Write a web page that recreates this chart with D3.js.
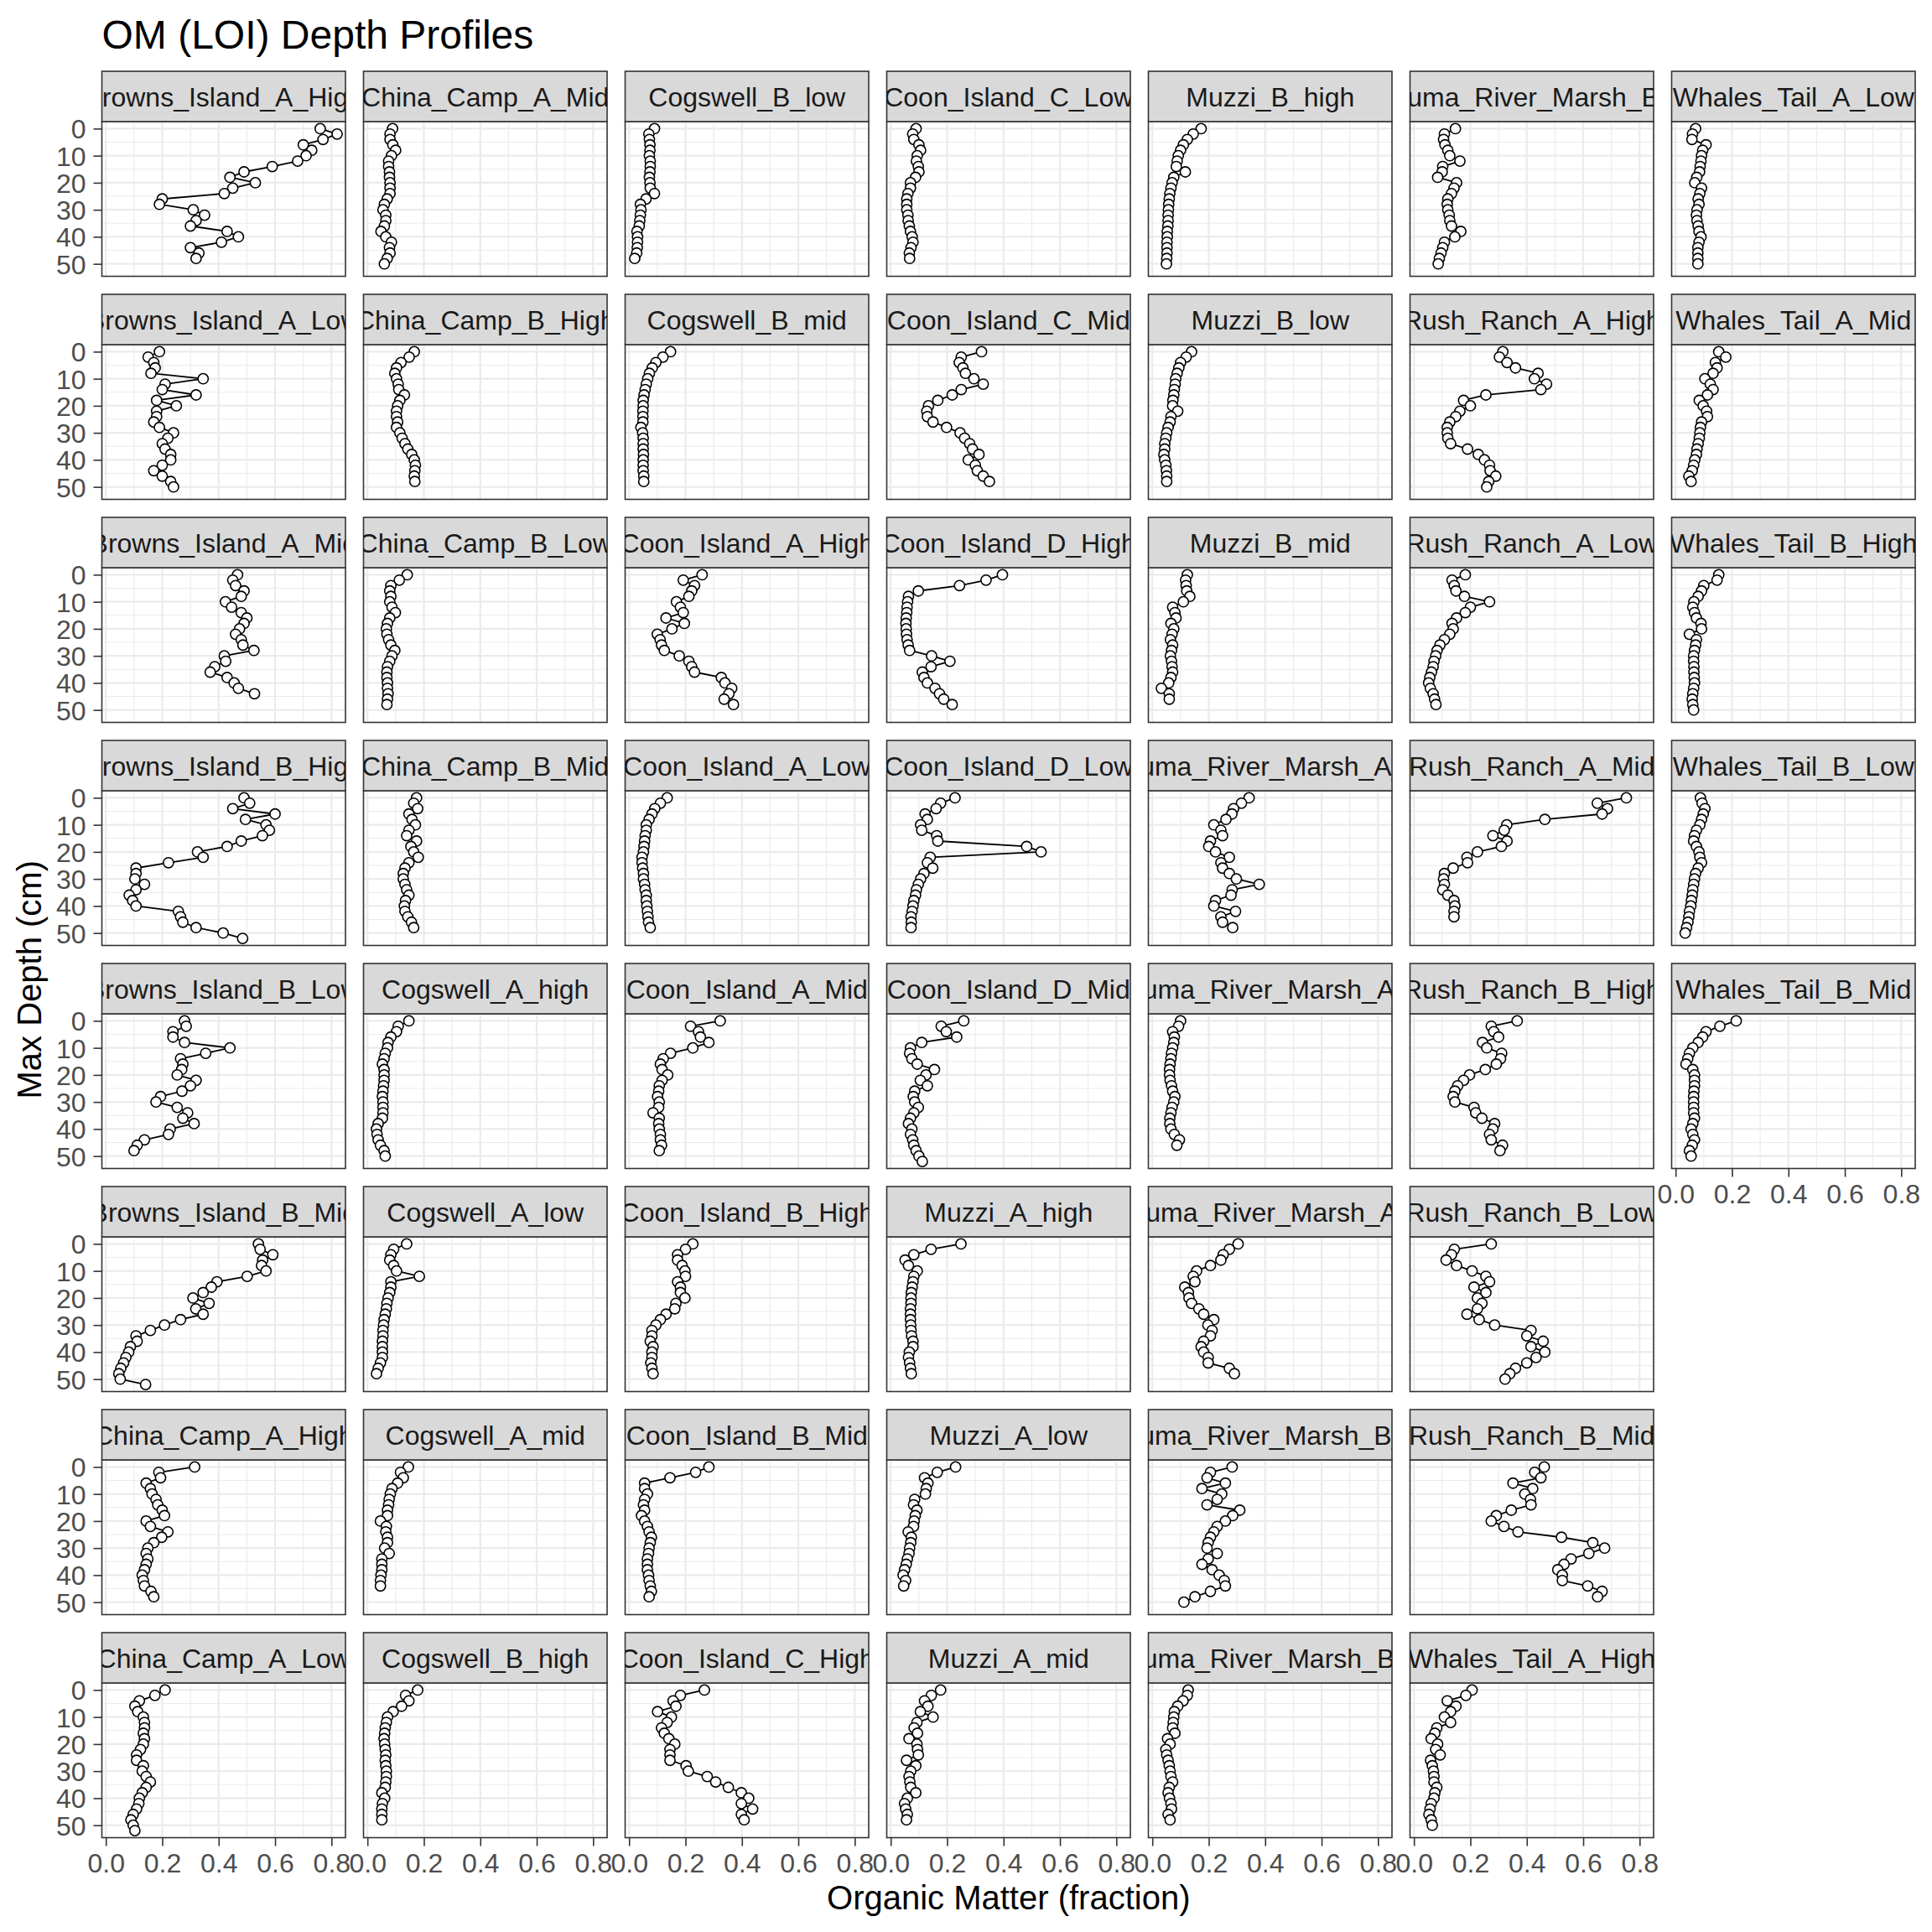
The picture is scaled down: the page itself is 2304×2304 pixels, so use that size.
<!DOCTYPE html>
<html><head><meta charset="utf-8">
<script src="https://cdn.jsdelivr.net/npm/d3@7"></script>
<style>
body{margin:0;background:#fff}
text{font-family:"Liberation Sans",Arial,Helvetica,sans-serif}
</style>
</head><body>
<svg id="chart" width="2304" height="2304"></svg>
<script>
// ---------- data ----------
const depths = [0,2,4,6,8,10,12,14,16,18,20,22,24,26,28,30,32,34,36,38,40,42,44,46,48,50,52];
const xTicks = [0,0.2,0.4,0.6,0.8];
const xMinor = [0.1,0.3,0.5,0.7];
const yTicks = [0,10,20,30,40,50];
const yMinor = [5,15,25,35,45];

const BI_A_High = [0.76,0.82,0.77,0.70,0.73,0.71,0.68,0.59,0.49,0.44,0.53,0.45,0.42,0.20,0.19,0.31,0.35,0.32,0.30,0.43,0.47,0.41,0.30,0.33,0.32];
const BI_A_Low = [0.19,0.15,0.17,0.175,0.16,0.345,0.21,0.2,0.32,0.18,0.25,0.18,0.18,0.17,0.19,0.24,0.22,0.2,0.21,0.23,0.23,0.2,0.17,0.2,0.23,0.24];
const BI_A_Mid = [0.467,0.45,0.46,0.49,0.48,0.424,0.446,0.48,0.5,0.49,0.474,0.46,0.48,0.486,0.525,0.42,0.425,0.386,0.37,0.43,0.455,0.47,0.527];
const BI_B_High = [0.49,0.51,0.45,0.6,0.495,0.568,0.58,0.555,0.48,0.43,0.325,0.345,0.222,0.107,0.107,0.103,0.137,0.107,0.083,0.095,0.107,0.257,0.265,0.273,0.32,0.416,0.485];
const BI_B_Low = [0.279,0.285,0.238,0.238,0.279,0.44,0.354,0.265,0.273,0.269,0.253,0.32,0.3,0.27,0.194,0.178,0.253,0.29,0.273,0.313,0.228,0.222,0.137,0.111,0.1];
const BI_B_Mid = [0.541,0.547,0.592,0.556,0.552,0.568,0.501,0.394,0.374,0.345,0.309,0.366,0.319,0.345,0.265,0.208,0.158,0.107,0.111,0.087,0.081,0.071,0.063,0.053,0.046,0.051,0.141];
const CC_A_High = [0.315,0.188,0.194,0.143,0.158,0.164,0.178,0.184,0.2,0.208,0.143,0.158,0.22,0.198,0.17,0.149,0.143,0.149,0.143,0.137,0.129,0.133,0.137,0.16,0.17];
const CC_A_Low = [0.21,0.174,0.119,0.103,0.113,0.133,0.137,0.137,0.133,0.137,0.133,0.123,0.109,0.109,0.133,0.129,0.143,0.158,0.143,0.129,0.119,0.117,0.109,0.097,0.089,0.097,0.103];
const CC_A_Mid = [0.089,0.08,0.08,0.09,0.10,0.085,0.075,0.075,0.078,0.078,0.08,0.08,0.08,0.07,0.06,0.055,0.065,0.065,0.06,0.048,0.065,0.085,0.078,0.08,0.07,0.06];
const CC_B_High = [0.166,0.148,0.119,0.103,0.097,0.103,0.109,0.111,0.131,0.115,0.107,0.103,0.103,0.107,0.103,0.115,0.123,0.133,0.143,0.157,0.166,0.17,0.168,0.166,0.168];
const CC_B_Low = [0.141,0.113,0.083,0.079,0.083,0.079,0.087,0.099,0.079,0.071,0.067,0.069,0.075,0.083,0.097,0.087,0.079,0.071,0.069,0.069,0.071,0.071,0.073,0.071,0.069];
const CC_B_Mid = [0.174,0.164,0.178,0.147,0.158,0.17,0.147,0.139,0.174,0.154,0.164,0.18,0.147,0.133,0.127,0.127,0.133,0.139,0.147,0.135,0.131,0.133,0.143,0.156,0.164];
const Cog_A_high = [0.147,0.109,0.103,0.083,0.073,0.071,0.063,0.059,0.053,0.059,0.059,0.059,0.057,0.055,0.053,0.055,0.055,0.055,0.053,0.038,0.032,0.034,0.038,0.046,0.059,0.063];
const Cog_A_low = [0.139,0.093,0.083,0.079,0.093,0.103,0.184,0.083,0.083,0.079,0.073,0.069,0.067,0.063,0.059,0.057,0.055,0.055,0.053,0.053,0.053,0.053,0.046,0.038,0.032];
const Cog_A_mid = [0.145,0.117,0.127,0.107,0.087,0.081,0.077,0.075,0.071,0.071,0.046,0.067,0.065,0.071,0.071,0.061,0.077,0.051,0.051,0.051,0.048,0.046,0.046];
const Cog_B_high = [0.178,0.135,0.147,0.121,0.091,0.071,0.067,0.063,0.061,0.059,0.061,0.063,0.065,0.063,0.065,0.067,0.067,0.065,0.063,0.051,0.061,0.053,0.051,0.051,0.051];
const Cog_B_low = [0.09,0.07,0.072,0.074,0.074,0.072,0.075,0.075,0.074,0.072,0.074,0.075,0.09,0.06,0.04,0.042,0.04,0.038,0.036,0.028,0.03,0.03,0.029,0.027,0.02];
const Cog_B_mid = [0.147,0.12,0.095,0.082,0.072,0.066,0.061,0.057,0.053,0.05,0.05,0.049,0.049,0.049,0.042,0.048,0.05,0.05,0.05,0.051,0.05,0.05,0.05,0.052,0.052];
const CI_A_High = [0.259,0.192,0.232,0.222,0.212,0.168,0.182,0.192,0.131,0.196,0.152,0.1,0.11,0.115,0.125,0.178,0.212,0.222,0.232,0.327,0.34,0.364,0.354,0.337,0.37];
const CI_A_Low = [0.135,0.111,0.091,0.081,0.071,0.061,0.061,0.057,0.055,0.053,0.051,0.046,0.046,0.048,0.051,0.051,0.055,0.057,0.061,0.061,0.063,0.065,0.067,0.069,0.075];
const CI_A_Mid = [0.323,0.218,0.246,0.253,0.283,0.226,0.147,0.121,0.111,0.117,0.137,0.117,0.107,0.105,0.101,0.107,0.105,0.085,0.107,0.105,0.107,0.111,0.111,0.115,0.107];
const CI_B_High = [0.226,0.2,0.172,0.172,0.188,0.198,0.2,0.172,0.182,0.182,0.198,0.166,0.162,0.131,0.111,0.095,0.081,0.081,0.075,0.085,0.081,0.081,0.077,0.081,0.085];
const CI_B_Mid = [0.283,0.236,0.145,0.055,0.055,0.065,0.055,0.051,0.055,0.044,0.055,0.065,0.071,0.079,0.075,0.071,0.069,0.065,0.065,0.065,0.069,0.071,0.075,0.079,0.071];
const CI_C_High = [0.267,0.182,0.156,0.166,0.101,0.15,0.135,0.115,0.125,0.141,0.162,0.145,0.145,0.145,0.202,0.21,0.277,0.307,0.352,0.398,0.424,0.398,0.438,0.398,0.408];
const CI_C_Low = [0.09,0.078,0.082,0.1,0.106,0.094,0.091,0.098,0.1,0.088,0.07,0.07,0.061,0.057,0.057,0.057,0.061,0.062,0.066,0.07,0.076,0.079,0.072,0.066,0.067];
const CI_C_Mid = [0.322,0.25,0.243,0.256,0.265,0.295,0.328,0.25,0.218,0.167,0.134,0.128,0.13,0.15,0.198,0.246,0.262,0.28,0.29,0.313,0.275,0.30,0.307,0.328,0.35];
const CI_D_High = [0.396,0.338,0.244,0.098,0.063,0.06,0.058,0.057,0.055,0.054,0.055,0.056,0.058,0.062,0.067,0.145,0.21,0.143,0.112,0.118,0.13,0.157,0.173,0.188,0.218];
const CI_D_Low = [0.228,0.177,0.161,0.122,0.13,0.106,0.11,0.163,0.167,0.482,0.533,0.14,0.13,0.149,0.118,0.106,0.098,0.091,0.088,0.082,0.079,0.076,0.072,0.073,0.072];
const CI_D_Mid = [0.259,0.179,0.197,0.234,0.11,0.07,0.067,0.075,0.094,0.155,0.125,0.105,0.13,0.085,0.08,0.085,0.098,0.082,0.07,0.063,0.075,0.07,0.078,0.082,0.09,0.1,0.112];
const Muz_A_high = [0.249,0.143,0.082,0.051,0.063,0.094,0.082,0.079,0.076,0.073,0.072,0.072,0.07,0.07,0.07,0.071,0.072,0.074,0.079,0.079,0.066,0.063,0.067,0.07,0.073];
const Muz_A_low = [0.23,0.165,0.12,0.132,0.126,0.123,0.085,0.081,0.093,0.087,0.083,0.081,0.062,0.073,0.071,0.067,0.065,0.059,0.055,0.049,0.044,0.053,0.046];
const Muz_A_mid = [0.177,0.144,0.12,0.132,0.105,0.15,0.093,0.083,0.095,0.065,0.093,0.095,0.098,0.056,0.089,0.071,0.065,0.068,0.071,0.089,0.059,0.049,0.053,0.059,0.056];
const Muz_B_high = [0.173,0.145,0.124,0.11,0.10,0.092,0.088,0.085,0.117,0.076,0.07,0.066,0.062,0.06,0.058,0.057,0.056,0.056,0.055,0.053,0.053,0.052,0.052,0.052,0.051,0.05];
const Muz_B_low = [0.139,0.12,0.10,0.094,0.088,0.083,0.081,0.078,0.076,0.073,0.072,0.09,0.066,0.063,0.056,0.051,0.048,0.044,0.044,0.041,0.044,0.048,0.05,0.051,0.051];
const Muz_B_mid = [0.124,0.118,0.12,0.122,0.133,0.11,0.072,0.08,0.084,0.066,0.076,0.07,0.064,0.072,0.068,0.064,0.068,0.07,0.072,0.066,0.058,0.032,0.06,0.06];
const PRM_A_High = [0.343,0.316,0.288,0.282,0.261,0.218,0.243,0.249,0.206,0.2,0.224,0.273,0.243,0.249,0.273,0.298,0.379,0.283,0.279,0.224,0.218,0.295,0.243,0.249,0.285];
const PRM_A_Low = [0.1,0.093,0.072,0.078,0.076,0.072,0.068,0.066,0.063,0.061,0.061,0.063,0.068,0.072,0.08,0.076,0.07,0.066,0.062,0.062,0.066,0.078,0.096,0.087];
const PRM_A_Mid = [0.304,0.273,0.251,0.243,0.206,0.157,0.145,0.151,0.115,0.128,0.13,0.139,0.165,0.182,0.218,0.197,0.212,0.206,0.182,0.173,0.182,0.198,0.198,0.273,0.291];
const PRM_B_High = [0.283,0.206,0.194,0.259,0.176,0.246,0.23,0.194,0.31,0.285,0.259,0.23,0.218,0.206,0.198,0.194,0.23,0.198,0.176,0.212,0.237,0.255,0.259,0.206,0.151,0.112];
const PRM_B_Low = [0.127,0.124,0.109,0.09,0.078,0.076,0.074,0.072,0.08,0.054,0.063,0.048,0.051,0.056,0.06,0.063,0.066,0.072,0.06,0.056,0.061,0.066,0.068,0.056,0.063];
const PRM_B_Mid = [0.147,0.108,0.105,0.11,0.12,0.127,0.163,0.102,0.1,0.084,0.151,0.142,0.133,0.12,0.118,0.12,0.125,0.127,0.133,0.166,0.145,0.108,0.102,0.096,0.09,0.086];
const RR_A_High = [0.315,0.303,0.33,0.36,0.44,0.427,0.47,0.45,0.255,0.176,0.2,0.163,0.148,0.127,0.118,0.118,0.12,0.13,0.19,0.228,0.25,0.268,0.27,0.29,0.265,0.258];
const RR_A_Low = [0.182,0.135,0.143,0.149,0.179,0.268,0.2,0.182,0.151,0.135,0.139,0.127,0.108,0.092,0.082,0.077,0.071,0.068,0.062,0.056,0.052,0.058,0.068,0.073,0.078];
const RR_A_Mid = [0.753,0.65,0.686,0.667,0.464,0.329,0.32,0.28,0.33,0.31,0.225,0.188,0.19,0.139,0.108,0.105,0.108,0.102,0.12,0.142,0.145,0.142,0.142];
const RR_B_High = [0.366,0.274,0.283,0.3,0.243,0.258,0.311,0.307,0.292,0.253,0.197,0.176,0.155,0.145,0.139,0.145,0.213,0.219,0.241,0.286,0.28,0.268,0.274,0.314,0.305];
const RR_B_Low = [0.274,0.143,0.133,0.114,0.151,0.206,0.255,0.268,0.213,0.255,0.225,0.241,0.225,0.188,0.231,0.286,0.415,0.40,0.458,0.415,0.464,0.433,0.4,0.36,0.34,0.323];
const RR_B_Mid = [0.462,0.428,0.45,0.351,0.421,0.393,0.413,0.415,0.345,0.292,0.274,0.319,0.369,0.523,0.634,0.676,0.62,0.557,0.532,0.51,0.526,0.526,0.616,0.667,0.651];
const WT_A_High = [0.206,0.184,0.118,0.149,0.13,0.108,0.13,0.081,0.074,0.061,0.084,0.077,0.093,0.059,0.065,0.069,0.071,0.071,0.081,0.074,0.071,0.061,0.057,0.053,0.061,0.065];
const WT_A_Low = [0.071,0.06,0.058,0.108,0.096,0.092,0.09,0.087,0.085,0.075,0.068,0.092,0.086,0.08,0.083,0.076,0.074,0.076,0.08,0.083,0.09,0.083,0.079,0.079,0.079,0.079];
const WT_A_Mid = [0.153,0.178,0.141,0.147,0.133,0.104,0.123,0.133,0.113,0.084,0.098,0.11,0.113,0.092,0.088,0.086,0.084,0.08,0.076,0.074,0.068,0.064,0.059,0.047,0.055];
const WT_B_High = [0.153,0.147,0.1,0.092,0.08,0.065,0.061,0.067,0.074,0.09,0.092,0.049,0.074,0.071,0.067,0.064,0.064,0.065,0.065,0.066,0.067,0.064,0.061,0.059,0.061,0.064];
const WT_B_Low = [0.088,0.094,0.104,0.098,0.092,0.086,0.074,0.067,0.064,0.074,0.083,0.086,0.092,0.08,0.071,0.067,0.064,0.061,0.059,0.056,0.054,0.049,0.047,0.044,0.039,0.034];
const WT_B_Mid = [0.215,0.157,0.108,0.096,0.08,0.061,0.049,0.043,0.037,0.061,0.067,0.067,0.067,0.065,0.064,0.064,0.064,0.064,0.067,0.061,0.055,0.061,0.067,0.059,0.049,0.055];

const facetNames = [
 "Browns_Island_A_High","Browns_Island_A_Low","Browns_Island_A_Mid","Browns_Island_B_High","Browns_Island_B_Low","Browns_Island_B_Mid","China_Camp_A_High","China_Camp_A_Low",
 "China_Camp_A_Mid","China_Camp_B_High","China_Camp_B_Low","China_Camp_B_Mid","Cogswell_A_high","Cogswell_A_low","Cogswell_A_mid","Cogswell_B_high",
 "Cogswell_B_low","Cogswell_B_mid","Coon_Island_A_High","Coon_Island_A_Low","Coon_Island_A_Mid","Coon_Island_B_High","Coon_Island_B_Mid","Coon_Island_C_High",
 "Coon_Island_C_Low","Coon_Island_C_Mid","Coon_Island_D_High","Coon_Island_D_Low","Coon_Island_D_Mid","Muzzi_A_high","Muzzi_A_low","Muzzi_A_mid",
 "Muzzi_B_high","Muzzi_B_low","Muzzi_B_mid","Petaluma_River_Marsh_A_High","Petaluma_River_Marsh_A_Low","Petaluma_River_Marsh_A_Mid","Petaluma_River_Marsh_B_High","Petaluma_River_Marsh_B_Low",
 "Petaluma_River_Marsh_B_Mid","Rush_Ranch_A_High","Rush_Ranch_A_Low","Rush_Ranch_A_Mid","Rush_Ranch_B_High","Rush_Ranch_B_Low","Rush_Ranch_B_Mid","Whales_Tail_A_High",
 "Whales_Tail_A_Low","Whales_Tail_A_Mid","Whales_Tail_B_High","Whales_Tail_B_Low","Whales_Tail_B_Mid"
];
const facetValues = [
 BI_A_High,BI_A_Low,BI_A_Mid,BI_B_High,BI_B_Low,BI_B_Mid,CC_A_High,CC_A_Low,
 CC_A_Mid,CC_B_High,CC_B_Low,CC_B_Mid,Cog_A_high,Cog_A_low,Cog_A_mid,Cog_B_high,
 Cog_B_low,Cog_B_mid,CI_A_High,CI_A_Low,CI_A_Mid,CI_B_High,CI_B_Mid,CI_C_High,
 CI_C_Low,CI_C_Mid,CI_D_High,CI_D_Low,CI_D_Mid,Muz_A_high,Muz_A_low,Muz_A_mid,
 Muz_B_high,Muz_B_low,Muz_B_mid,PRM_A_High,PRM_A_Low,PRM_A_Mid,PRM_B_High,PRM_B_Low,
 PRM_B_Mid,RR_A_High,RR_A_Low,RR_A_Mid,RR_B_High,RR_B_Low,RR_B_Mid,WT_A_High,
 WT_A_Low,WT_A_Mid,WT_B_High,WT_B_Low,WT_B_Mid
];

// ---------- layout ----------
const NROW = 8;
const plotLeft = 121.5, colPitch = 312, panelW = 290.5;
const stripTop0 = 85, rowPitch = 266, stripH = 60, panelH = 184.5;
const xDomain = [-0.014, 0.8496];
const yDomain = [-2.6, 54.6];

const svg = d3.select("#chart");
svg.append("rect").attr("width",2304).attr("height",2304).attr("fill","#fff");
const defs = svg.append("defs");

// title
svg.append("text").attr("x", plotLeft).attr("y", 58)
  .attr("font-size", 48).attr("fill", "#000").text("OM (LOI) Depth Profiles");

const nCols = Math.ceil(facetNames.length / NROW);
const lastRowInCol = [];
facetNames.forEach((name, i) => {
  const c = Math.floor(i / NROW), r = i % NROW;
  lastRowInCol[c] = Math.max(lastRowInCol[c] ?? -1, r);
});

facetNames.forEach((name, i) => {
  const c = Math.floor(i / NROW), r = i % NROW;
  const left = plotLeft + c * colPitch;
  const sTop = stripTop0 + r * rowPitch;
  const pTop = sTop + stripH;
  const x = d3.scaleLinear().domain(xDomain).range([left, left + panelW]);
  const y = d3.scaleLinear().domain(yDomain).range([pTop, pTop + panelH]);
  const g = svg.append("g");

  // panel background + grid
  g.append("rect").attr("x", left).attr("y", pTop).attr("width", panelW).attr("height", panelH).attr("fill", "#fff");
  g.selectAll(".xmin").data(xMinor).join("line")
    .attr("x1", d => x(d)).attr("x2", d => x(d)).attr("y1", pTop).attr("y2", pTop + panelH)
    .attr("stroke", "#EBEBEB").attr("stroke-width", 1.1);
  g.selectAll(".ymin").data(yMinor).join("line")
    .attr("y1", d => y(d)).attr("y2", d => y(d)).attr("x1", left).attr("x2", left + panelW)
    .attr("stroke", "#EBEBEB").attr("stroke-width", 1.1);
  g.selectAll(".xmaj").data(xTicks).join("line")
    .attr("x1", d => x(d)).attr("x2", d => x(d)).attr("y1", pTop).attr("y2", pTop + panelH)
    .attr("stroke", "#EBEBEB").attr("stroke-width", 2.2);
  g.selectAll(".ymaj").data(yTicks).join("line")
    .attr("y1", d => y(d)).attr("y2", d => y(d)).attr("x1", left).attr("x2", left + panelW)
    .attr("stroke", "#EBEBEB").attr("stroke-width", 2.2);

  // data
  const vals = facetValues[i];
  const pts = vals.map((v, k) => ({ om: v, depth: depths[k] }));
  const line = d3.line().x(d => x(d.om)).y(d => y(d.depth));
  g.append("path").datum(pts).attr("d", line).attr("fill", "none")
    .attr("stroke", "#000").attr("stroke-width", 1.8).attr("stroke-linejoin", "round");
  g.selectAll("circle").data(pts).join("circle")
    .attr("cx", d => x(d.om)).attr("cy", d => y(d.depth)).attr("r", 6.1)
    .attr("fill", "#fff").attr("stroke", "#000").attr("stroke-width", 1.6);

  // panel border
  g.append("rect").attr("x", left).attr("y", pTop).attr("width", panelW).attr("height", panelH)
    .attr("fill", "none").attr("stroke", "#333333").attr("stroke-width", 1.6);

  // strip
  const cid = "clip" + i;
  defs.append("clipPath").attr("id", cid).append("rect")
    .attr("x", left).attr("y", sTop).attr("width", panelW).attr("height", stripH);
  g.append("rect").attr("x", left).attr("y", sTop).attr("width", panelW).attr("height", stripH)
    .attr("fill", "#D9D9D9").attr("stroke", "#333333").attr("stroke-width", 1.6);
  g.append("text").attr("clip-path", `url(#${cid})`)
    .attr("x", left + panelW / 2).attr("y", sTop + stripH / 2 + 11.5)
    .attr("text-anchor", "middle").attr("font-size", 32).attr("fill", "#1A1A1A").text(name);

  // y axis on first column
  if (c === 0) {
    const ax = svg.append("g").attr("transform", `translate(${left},0)`)
      .call(d3.axisLeft(y).tickValues(yTicks).tickSize(10).tickPadding(9).tickFormat(d3.format("d")));
    ax.select(".domain").remove();
    ax.selectAll(".tick line").attr("stroke", "#333333").attr("stroke-width", 1.6);
    ax.selectAll(".tick text").attr("font-size", 32).attr("fill", "#4D4D4D")
      .attr("font-family", '"Liberation Sans",Arial,sans-serif').attr("dy", "0.36em");
  }
  // x axis at bottom of each column
  if (r === lastRowInCol[c]) {
    const ax = svg.append("g").attr("transform", `translate(0,${pTop + panelH})`)
      .call(d3.axisBottom(x).tickValues(xTicks).tickSize(10).tickPadding(8.5).tickFormat(d3.format(".1f")));
    ax.select(".domain").remove();
    ax.selectAll(".tick line").attr("stroke", "#333333").attr("stroke-width", 1.6);
    ax.selectAll(".tick text").attr("font-size", 32).attr("fill", "#4D4D4D")
      .attr("font-family", '"Liberation Sans",Arial,sans-serif');
  }
});

// axis titles
const panelsRight = plotLeft + (nCols - 1) * colPitch + panelW;
const panelsTop = stripTop0 + stripH;
const panelsBottom = stripTop0 + (NROW - 1) * rowPitch + stripH + panelH;
svg.append("text").attr("x", (plotLeft + panelsRight) / 2).attr("y", 2277)
  .attr("text-anchor", "middle").attr("font-size", 40).attr("fill", "#000")
  .text("Organic Matter (fraction)");
svg.append("text")
  .attr("transform", `translate(48.5,${(panelsTop + panelsBottom) / 2}) rotate(-90)`)
  .attr("text-anchor", "middle").attr("font-size", 40).attr("fill", "#000")
  .text("Max Depth (cm)");
</script>
</body></html>
